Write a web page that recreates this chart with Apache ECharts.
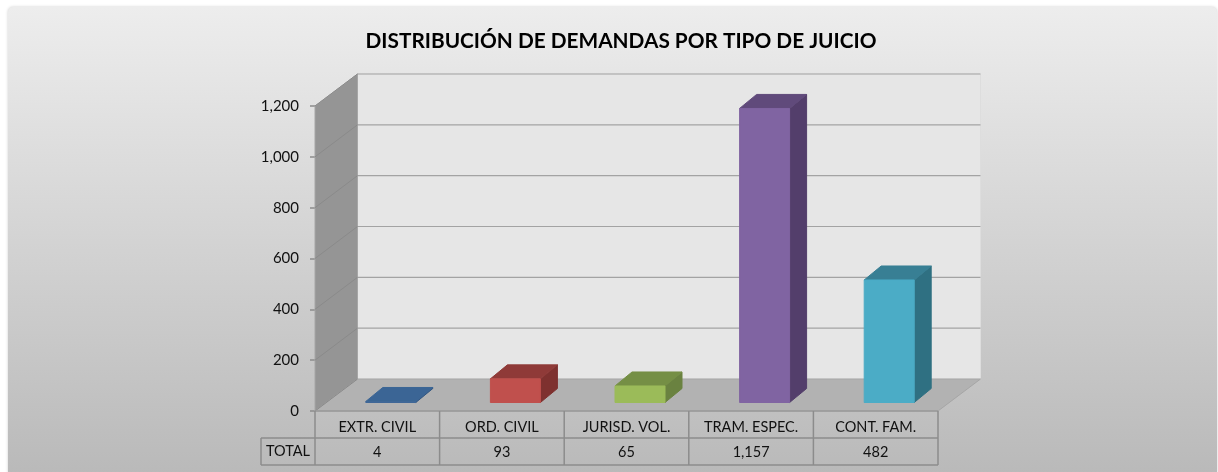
<!DOCTYPE html>
<html>
<head>
<meta charset="utf-8">
<style>
  html, body { margin: 0; padding: 0; background: #fff; }
  #chart { width: 1218px; height: 472px; }
</style>
<script src="https://cdn.jsdelivr.net/npm/echarts@6/dist/echarts.min.js"></script>
</head>
<body>
<div id="chart"></div>
<script>
const categories = ["EXTR. CIVIL", "ORD. CIVIL", "JURISD. VOL.", "TRAM. ESPEC.", "CONT. FAM."];
const totals = [4, 93, 65, 1157, 482];
const yTicks = [0, 200, 400, 600, 800, 1000, 1200];
const rowLabel = "TOTAL";
const chartTitle = "DISTRIBUCIÓN DE DEMANDAS POR TIPO DE JUICIO";

const fontFamily = "Lato, 'Open Sans', sans-serif";

// front, top, side colours of each column
const barColors = [
  ["#3f6797", "#3b6595", "#325680"],
  ["#c0504d", "#8f3a38", "#7e312f"],
  ["#9bbb59", "#758f45", "#6a8240"],
  ["#8064a2", "#604a7b", "#533e6b"],
  ["#4bacc6", "#387f94", "#2f7082"],
];

// 3d look of the box
const wallDx = 42.5;
const wallDy = -32;
const barShiftX = 13.5;
const barShiftY = -8.5;
const barDepthX = 17;
const barDepthY = -14;
const barWidth = 50;
const rowHeight = 27;
const rowHeadWidth = 54;

const poly = (points, fill, stroke) => ({
  type: "polygon",
  shape: { points },
  style: { fill, stroke: stroke || fill, lineWidth: 1 },
});
const line = (x1, y1, x2, y2, stroke, lineWidth) => ({
  type: "line",
  shape: { x1, y1, x2, y2 },
  style: { stroke, lineWidth: lineWidth || 1 },
});

function renderWalls(params, api) {
  const half = api.size([1, 0])[0] / 2;
  const [x0, y0] = api.coord([0, 0]);
  const left = x0 - half;
  const right = left + half * 2 * categories.length;
  const top = api.coord([0, yTicks[yTicks.length - 1]])[1];
  const children = [
    // back wall
    poly([[left + wallDx, top + wallDy], [right + wallDx, top + wallDy], [right + wallDx, y0 + wallDy], [left + wallDx, y0 + wallDy]], "#e6e6e6", "#dddddd"),
    // left wall
    poly([[left, top], [left + wallDx, top + wallDy], [left + wallDx, y0 + wallDy], [left, y0]], "#959595", "#a6a6a6"),
    // floor
    poly([[left, y0], [left + wallDx, y0 + wallDy], [right + wallDx, y0 + wallDy], [right, y0]], "#b2b2b2", "#a6a6a6"),
  ];
  yTicks.forEach((tick) => {
    const y = api.coord([0, tick])[1];
    if (tick > 0) {
      children.push(line(left + wallDx, y + wallDy, right + wallDx, y + wallDy, "#a3a3a3", 1.2));
    }
    children.push(line(left, y, left + wallDx, y + wallDy, "#8a8a8a", 1));
  });
  return { type: "group", children };
}

function renderTable(params, api) {
  const half = api.size([1, 0])[0] / 2;
  const [x0, y0] = api.coord([0, 0]);
  const left = x0 - half;
  const right = left + half * 2 * categories.length;
  const stroke = "#8c8c8c";
  const children = [
    line(left, y0, right, y0, "#9a9a9a", 1.5),
    line(left - rowHeadWidth, y0 + rowHeight, right, y0 + rowHeight, stroke, 1.5),
    line(left - rowHeadWidth, y0 + rowHeight * 2, right, y0 + rowHeight * 2, stroke, 1.5),
    line(left - rowHeadWidth, y0 + rowHeight, left - rowHeadWidth, y0 + rowHeight * 2, stroke, 1.5),
    {
      type: "text",
      style: {
        x: left - rowHeadWidth / 2,
        y: y0 + rowHeight * 1.5,
        text: rowLabel,
        fill: "#111",
        font: "14.5px " + fontFamily,
        align: "center",
        verticalAlign: "middle",
      },
    },
  ];
  for (let i = 0; i <= categories.length; i += 1) {
    const x = left + half * 2 * i;
    children.push(line(x, y0, x, y0 + rowHeight * 2, stroke, 1.5));
  }
  return { type: "group", children };
}

function renderBar(params, api) {
  const index = api.value(0);
  const value = api.value(1);
  const [cx, base] = api.coord([index, 0]);
  const topY = api.coord([index, value])[1] + barShiftY;
  const bottomY = base + barShiftY;
  const x1 = cx + barShiftX - barWidth / 2;
  const x2 = x1 + barWidth;
  const [front, topColor, side] = barColors[index];
  return {
    type: "group",
    children: [
      poly([[x2, topY], [x2 + barDepthX, topY + barDepthY], [x2 + barDepthX, bottomY + barDepthY], [x2, bottomY]], side),
      poly([[x1, topY], [x1 + barDepthX, topY + barDepthY], [x2 + barDepthX, topY + barDepthY], [x2, topY]], topColor),
      poly([[x1, topY], [x2, topY], [x2, bottomY], [x1, bottomY]], front),
    ],
  };
}

const chart = echarts.init(document.getElementById("chart"));

chart.setOption({
  animation: false,
  graphic: [
    {
      type: "rect",
      z: -10,
      silent: true,
      shape: { x: 8, y: 7, width: 1209, height: 470, r: 5 },
      style: {
        fill: {
          type: "linear",
          x: 0, y: 0, x2: 0, y2: 1,
          colorStops: [
            { offset: 0, color: "#ededed" },
            { offset: 1, color: "#b9b9b9" },
          ],
        },
        shadowColor: "rgba(0,0,0,0.2)",
        shadowBlur: 3,
      },
    },
  ],
  title: {
    text: chartTitle,
    left: 616,
    top: 26,
    textAlign: "center",
    textStyle: { fontFamily, fontSize: 20.8, fontWeight: "bold", color: "#000" },
  },
  grid: { left: 315, right: 280, top: 106, bottom: 61 },
  xAxis: {
    type: "category",
    data: categories,
    axisLine: { show: false },
    axisTick: { show: false },
    axisLabel: {
      interval: 0,
      margin: 4,
      color: "#111",
      fontFamily,
      fontSize: 14.5,
      lineHeight: 25,
      formatter: (name, i) => `${name}\n${totals[i].toLocaleString("en-US")}`,
    },
  },
  yAxis: {
    type: "value",
    min: 0,
    max: 1200,
    interval: 200,
    axisLine: { show: false },
    axisTick: { show: true, length: 5, lineStyle: { color: "#8c8c8c", width: 1.5 } },
    splitLine: { show: false },
    axisLabel: {
      margin: 16,
      color: "#111",
      fontFamily,
      fontSize: 15,
      formatter: (value) => value.toLocaleString("en-US"),
    },
  },
  series: [
    { type: "custom", silent: true, z: 1, renderItem: renderWalls, data: [[0, 0]] },
    { type: "custom", silent: true, z: 2, renderItem: renderTable, data: [[0, 0]] },
    {
      type: "custom",
      z: 3,
      renderItem: renderBar,
      encode: { x: 0, y: 1 },
      data: totals.map((value, index) => [index, value]),
    },
  ],
});
</script>
</body>
</html>
